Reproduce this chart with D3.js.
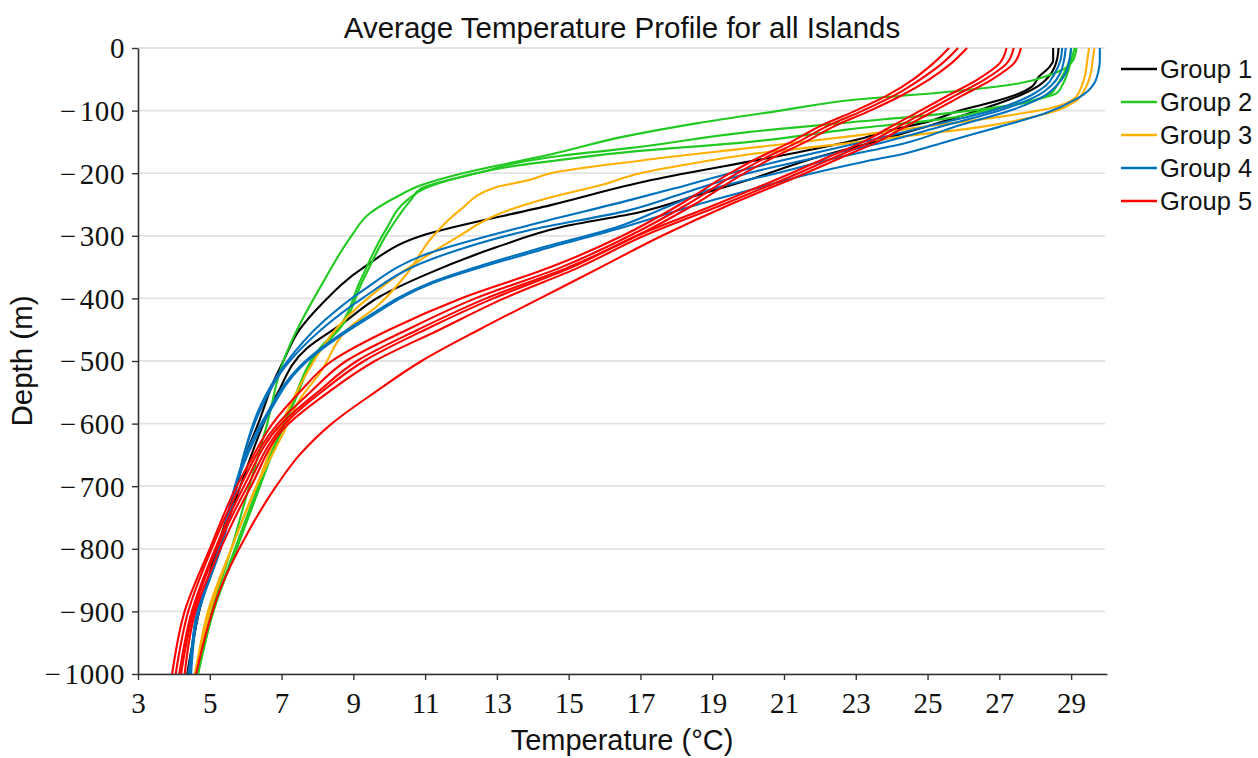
<!DOCTYPE html>
<html>
<head>
<meta charset="utf-8">
<script src="https://cdn.jsdelivr.net/npm/d3@7"></script>
<style>
  html, body { margin: 0; padding: 0; background: #fff; }
  svg { display: block; }
</style>
</head>
<body>
<svg id="chart" width="1258" height="758"></svg>
<script>
// ---------- DATA (depth m, temperature °C) ----------
const groupNames = ["Group 1", "Group 2", "Group 3", "Group 4", "Group 5"];
const groupColors = ["#000000", "#22c922", "#ffb000", "#0072bd", "#ff0000"];
const xTicks = [3, 5, 7, 9, 11, 13, 15, 17, 19, 21, 23, 25, 27, 29];
const yTicks = [0, -100, -200, -300, -400, -500, -600, -700, -800, -900, -1000];

const group1 = [
  [[0,28.5],[-20,28.5],[-30,28.4],[-46,28.1],[-62,27.9],[-75,27.45],[-88,26.7],[-100,25.9],[-118,25.0],[-131,24.0],[-147,23.0],[-171,21.0],[-211,17.3],[-251,14.5],[-300,10.9],[-350,9.3],[-410,8.1],[-450,7.5],[-500,7.05],[-530,6.8],[-600,6.35],[-650,6.0],[-700,5.75],[-800,5.2],[-900,4.7],[-1000,4.37]],
  [[0,28.65],[-20,28.6],[-40,28.45],[-60,28.1],[-75,27.6],[-100,26.4],[-125,25.0],[-150,23.5],[-175,21.9],[-211,20.0],[-235,18.6],[-262,17.0],[-286,14.8],[-318,13.0],[-360,11.1],[-397,9.74],[-440,8.7],[-480,7.7],[-550,6.9],[-600,6.5],[-700,5.85],[-800,5.25],[-900,4.7],[-1000,4.42]]
];
const group2 = [
  [[0,29.15],[-20,29.05],[-30,28.9],[-43,28.4],[-56,27.6],[-70,25.6],[-83,22.9],[-100,20.9],[-120,18.6],[-142,16.5],[-170,14.5],[-182,13.5],[-200,12.05],[-219,10.9],[-238,10.2],[-264,9.46],[-300,8.95],[-370,8.2],[-466,7.3],[-500,7.05],[-600,6.6],[-700,6.1],[-800,5.6],[-900,5.05],[-1000,4.62]],
  [[0,29.1],[-20,29.0],[-40,28.9],[-60,28.75],[-72,28.6],[-80,28.2],[-94,27.0],[-104,25.6],[-120,22.6],[-134,20.05],[-160,16.7],[-172,14.8],[-184,13.5],[-195,12.8],[-206,12.0],[-224,10.9],[-243,10.6],[-291,10.0],[-371,9.27],[-450,8.6],[-477,8.15],[-573,7.3],[-669,6.6],[-700,6.4],[-800,5.75],[-900,5.1],[-1000,4.67]],
  [[0,29.0],[-20,28.95],[-40,28.8],[-60,28.6],[-72,28.45],[-85,27.9],[-100,26.6],[-112,25.6],[-130,22.8],[-150,20.05],[-166,16.7],[-180,14.6],[-190,13.3],[-206,12.0],[-224,11.0],[-243,10.5],[-291,9.9],[-371,9.2],[-450,8.55],[-477,8.1],[-573,7.25],[-669,6.55],[-700,6.35],[-800,5.7],[-900,5.1],[-1000,4.67]]
];
const group3 = [
  [[0,29.5],[-20,29.45],[-40,29.4],[-60,29.3],[-80,29.1],[-95,28.5],[-110,27.0],[-125,25.0],[-140,23.0],[-160,20.0],[-180,17.0],[-200,14.5],[-211,13.9],[-222,13.0],[-259,11.97],[-302,11.2],[-360,10.5],[-413,9.65],[-446,8.9],[-519,8.07],[-562,7.5],[-615,7.05],[-700,6.3],[-800,5.6],[-900,4.95],[-1000,4.6]],
  [[0,29.65],[-20,29.6],[-40,29.55],[-64,29.4],[-86,29.1],[-100,28.6],[-112,27.8],[-126,26.5],[-140,24.5],[-152,22.8],[-170,20.0],[-187,18.2],[-200,17.0],[-219,15.9],[-240,14.4],[-264,13.1],[-302,11.9],[-345,10.7],[-400,9.4],[-450,8.5],[-500,7.9],[-600,7.0],[-700,6.3],[-800,5.6],[-900,5.0],[-1000,4.58]]
];
const group4 = [
  [[0,28.75],[-20,28.7],[-40,28.55],[-60,28.3],[-75,27.9],[-100,26.8],[-125,25.0],[-150,23.2],[-175,21.3],[-200,19.5],[-225,17.9],[-243,16.7],[-283,13.9],[-328,11.1],[-387,9.27],[-435,8.2],[-509,7.05],[-573,6.4],[-650,5.95],[-700,5.75],[-800,5.3],[-900,4.65],[-1000,4.45]],
  [[0,28.85],[-20,28.8],[-40,28.7],[-60,28.45],[-75,28.1],[-100,27.0],[-125,25.4],[-150,23.8],[-175,21.9],[-200,20.0],[-230,18.3],[-259,16.7],[-291,13.9],[-339,11.1],[-399,9.27],[-450,8.1],[-509,7.1],[-573,6.45],[-650,5.95],[-700,5.75],[-800,5.3],[-900,4.7],[-1000,4.4]],
  [[0,29.0],[-20,28.95],[-40,28.85],[-60,28.6],[-75,28.3],[-100,27.3],[-125,25.8],[-150,24.5],[-175,22.5],[-200,20.8],[-225,19.0],[-250,17.9],[-285,16.4],[-323,14.0],[-376,11.1],[-434,9.27],[-509,7.5],[-583,6.6],[-674,5.84],[-700,5.7],[-800,5.25],[-900,4.65],[-1000,4.45]],
  [[0,29.8],[-20,29.8],[-40,29.75],[-56,29.65],[-67,29.5],[-83,29.1],[-104,28.3],[-126,27.0],[-150,25.5],[-168,24.4],[-182,23.2],[-200,21.8],[-227,20.05],[-250,18.6],[-285,16.6],[-323,14.2],[-376,11.2],[-434,9.35],[-509,7.55],[-583,6.65],[-674,5.88],[-700,5.72],[-800,5.28],[-900,4.68],[-1000,4.48]]
];
const group5 = [
  [[0,25.6],[-25,25.15],[-50,24.6],[-75,23.9],[-100,23.0],[-125,22.0],[-150,21.2],[-175,20.3],[-200,19.5],[-250,18.1],[-300,16.5],[-350,14.5],[-400,12.0],[-450,10.0],[-500,8.4],[-550,7.5],[-600,6.75],[-663,6.1],[-700,5.75],[-800,5.0],[-900,4.3],[-1000,3.95]],
  [[0,25.85],[-25,25.4],[-50,24.8],[-75,24.1],[-100,23.2],[-125,22.2],[-150,21.4],[-175,20.5],[-200,19.7],[-250,18.3],[-300,16.7],[-350,14.8],[-400,12.4],[-450,10.5],[-500,8.8],[-550,7.8],[-600,6.9],[-700,5.85],[-800,5.05],[-900,4.4],[-1000,4.05]],
  [[0,26.1],[-25,25.65],[-50,25.05],[-75,24.3],[-100,23.4],[-125,22.4],[-150,21.6],[-175,20.7],[-200,19.9],[-250,18.5],[-300,16.9],[-350,15.0],[-400,12.7],[-450,10.8],[-500,9.1],[-550,8.0],[-600,7.0],[-700,5.95],[-800,5.15],[-900,4.5],[-1000,4.15]],
  [[0,27.2],[-25,27.0],[-50,26.4],[-75,25.6],[-100,24.8],[-125,24.0],[-150,23.2],[-175,22.2],[-200,21.2],[-250,19.1],[-300,16.9],[-350,15.1],[-400,12.9],[-450,11.0],[-500,9.3],[-550,8.1],[-600,7.1],[-700,6.05],[-800,5.2],[-900,4.55],[-1000,4.2]],
  [[0,27.4],[-25,27.2],[-50,26.6],[-75,25.8],[-100,25.0],[-125,24.2],[-150,23.4],[-175,22.4],[-200,21.4],[-250,19.3],[-300,17.1],[-350,15.3],[-400,13.2],[-450,11.4],[-500,9.6],[-550,8.3],[-600,7.2],[-700,6.15],[-800,5.3],[-900,4.6],[-1000,4.3]],
  [[0,27.6],[-25,27.4],[-50,26.8],[-75,26.0],[-100,25.2],[-125,24.4],[-150,23.6],[-175,22.6],[-200,21.6],[-250,19.5],[-300,17.6],[-350,15.9],[-400,14.2],[-450,12.5],[-500,10.9],[-550,9.6],[-600,8.4],[-650,7.5],[-700,6.85],[-775,6.05],[-866,5.28],[-930,4.92],[-1000,4.62]]
];
const allGroups = [group1, group2, group3, group4, group5];

(function () {
// ---------- LAYOUT ----------
const svg = d3.select("#chart");
const mLeft = 138, mRight = 1107, mTop = 48, mBottom = 674;

const x = d3.scaleLinear().domain([3, 30]).range([mLeft, mRight]);
const y = d3.scaleLinear().domain([-1000, 0]).range([mBottom, mTop]);

// gridlines
svg.append("g")
  .selectAll("line")
  .data(yTicks)
  .join("line")
  .attr("x1", mLeft).attr("x2", mRight - 2)
  .attr("y1", d => y(d)).attr("y2", d => y(d))
  .attr("stroke", "#e3e3e3")
  .attr("stroke-width", 1.8);

// lines
const line = d3.line()
  .x(d => x(d[1]))
  .y(d => y(d[0]))
  .curve(d3.curveMonotoneY);

const plot = svg.append("g");
allGroups.forEach((grp, gi) => {
  plot.append("g")
    .selectAll("path")
    .data(grp)
    .join("path")
    .attr("d", line)
    .attr("fill", "none")
    .attr("stroke", groupColors[gi])
    .attr("stroke-width", 2.1)
    .attr("stroke-linejoin", "round");
});

// axes
const fmt = d => d < 0 ? "\u2212\u200A" + Math.abs(d) : String(d);
const yAxis = svg.append("g")
  .attr("transform", `translate(${mLeft},0)`)
  .call(d3.axisLeft(y).tickValues(yTicks).tickFormat(fmt).tickSize(6).tickSizeOuter(0).tickPadding(7));
const xAxis = svg.append("g")
  .attr("transform", `translate(0,${mBottom})`)
  .call(d3.axisBottom(x).tickValues(xTicks).tickFormat(fmt).tickSize(6).tickSizeOuter(0).tickPadding(12));

[yAxis, xAxis].forEach(a => {
  a.select(".domain").attr("stroke", "#333").attr("stroke-width", 1.6);
  a.selectAll(".tick line").attr("stroke", "#333").attr("stroke-width", 1.4);
  a.selectAll(".tick text")
    .attr("font-family", "'Liberation Serif', 'Times New Roman', serif")
    .attr("font-size", 29)
    .attr("fill", "#111");
});
yAxis.selectAll(".tick text").attr("dy", "0.34em");
// widen minus glyph slightly like the reference's long minus
yAxis.selectAll(".tick text").attr("letter-spacing", 0.6);

// titles
const sans = "'Liberation Sans', Arial, sans-serif";
svg.append("text")
  .attr("x", 622).attr("y", 38)
  .attr("text-anchor", "middle")
  .attr("font-family", sans)
  .attr("font-size", 29.5)
  .attr("fill", "#111")
  .text("Average Temperature Profile for all Islands");

svg.append("text")
  .attr("x", 622).attr("y", 750)
  .attr("text-anchor", "middle")
  .attr("font-family", sans)
  .attr("font-size", 29)
  .attr("fill", "#111")
  .text("Temperature (°C)");

svg.append("text")
  .attr("transform", "translate(32,361) rotate(-90)")
  .attr("text-anchor", "middle")
  .attr("font-family", sans)
  .attr("font-size", 29.5)
  .attr("fill", "#111")
  .text("Depth (m)");

// legend
const legend = svg.append("g");
const lg = legend.selectAll("g")
  .data(groupNames)
  .join("g")
  .attr("transform", (d, i) => `translate(0,${69 + i * 33})`);
lg.append("line")
  .attr("x1", 1121).attr("x2", 1157)
  .attr("y1", 0).attr("y2", 0)
  .attr("stroke", (d, i) => groupColors[i])
  .attr("stroke-width", 2.5);
lg.append("text")
  .attr("x", 1160).attr("y", 0)
  .attr("dy", "0.36em")
  .attr("font-family", sans)
  .attr("font-size", 25.5)
  .attr("fill", "#111")
  .text(d => d);
})();
</script>
</body>
</html>
